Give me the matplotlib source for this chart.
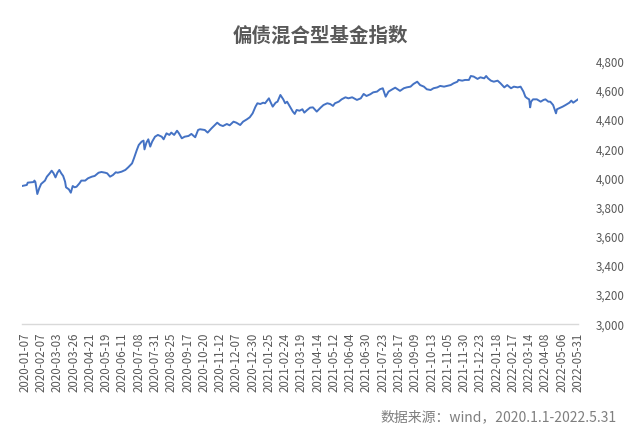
import matplotlib
matplotlib.use('Agg')
import matplotlib.pyplot as plt

plt.rcParams['font.family'] = ['Noto Sans CJK SC', 'DejaVu Sans']

# 交易日序号 (0 = 2020-01-02, 581 = 2022-05-31) 和指数值
day_idx = [0, 5, 6, 12, 13, 14, 16, 18, 20, 24, 26, 29, 31, 33, 35, 37, 39, 41, 43, 45,
           46, 49, 51, 53, 55, 57, 60, 62, 66, 69, 73, 76, 80, 83, 87, 89, 92, 95, 98, 100,
           104, 108, 111, 115, 117, 120, 122, 125, 127, 128, 130, 132, 134, 136, 139, 142, 146, 148, 151, 154,
           156, 159, 162, 164, 167, 170, 174, 177, 181, 184, 186, 191, 194, 198, 204, 207, 210, 214, 217, 221,
           224, 228, 231, 235, 238, 241, 244, 246, 249, 252, 254, 258, 260, 262, 265, 267, 270, 273, 275, 277,
           280, 283, 285, 287, 290, 293, 295, 298, 301, 304, 308, 312, 315, 319, 322, 325, 327, 331, 334, 338,
           341, 345, 347, 350, 354, 357, 360, 364, 367, 371, 374, 377, 380, 383, 387, 390, 395, 399, 402, 406,
           409, 413, 416, 420, 423, 427, 430, 434, 437, 441, 444, 448, 451, 455, 456, 460, 463, 467, 469, 472,
           476, 479, 483, 485, 487, 490, 493, 497, 500, 504, 507, 511, 514, 518, 521, 524, 526, 528, 530, 531,
           532, 534, 538, 542, 545, 547, 550, 552, 555, 558, 559, 561, 565, 568, 572, 574, 576, 579, 581]
index_value = [3948, 3955, 3971, 3975, 3985, 3975, 3893, 3932, 3962, 3985, 4012, 4035, 4053, 4035, 4007, 4039, 4058, 4035, 4017, 3978,
               3939, 3925, 3902, 3948, 3939, 3943, 3966, 3985, 3985, 4001, 4012, 4017, 4039, 4044, 4039, 4035, 4012, 4023, 4042, 4039,
               4046, 4058, 4076, 4103, 4138, 4195, 4229, 4252, 4259, 4199, 4245, 4268, 4218, 4252, 4286, 4298, 4286, 4268, 4309, 4298,
               4314, 4298, 4327, 4309, 4275, 4286, 4291, 4305, 4282, 4332, 4337, 4332, 4314, 4343, 4382, 4366, 4359, 4373, 4364, 4389,
               4382, 4366, 4389, 4405, 4419, 4446, 4492, 4515, 4510, 4519, 4515, 4549, 4519, 4492, 4519, 4526, 4572, 4542, 4515, 4526,
               4492, 4458, 4442, 4469, 4464, 4474, 4451, 4469, 4485, 4487, 4458, 4485, 4503, 4515, 4510, 4497, 4515, 4526, 4542, 4556,
               4549, 4556, 4549, 4538, 4549, 4579, 4565, 4577, 4590, 4595, 4611, 4618, 4560, 4595, 4611, 4622, 4600, 4618, 4624, 4629,
               4647, 4663, 4640, 4629, 4611, 4606, 4618, 4624, 4634, 4629, 4634, 4640, 4652, 4663, 4675, 4670, 4675, 4675, 4702, 4698,
               4682, 4693, 4686, 4702, 4686, 4670, 4663, 4670, 4652, 4624, 4640, 4618, 4629, 4624, 4629, 4595, 4560, 4549, 4542, 4487,
               4526, 4542, 4542, 4526, 4538, 4542, 4526, 4526, 4503, 4446, 4474, 4480, 4492, 4503, 4519, 4533, 4519, 4533, 4542]

tick_labels = ['2020-01-07', '2020-02-07', '2020-03-03', '2020-03-26', '2020-04-21', '2020-05-19',
               '2020-06-11', '2020-07-08', '2020-07-31', '2020-08-25', '2020-09-17', '2020-10-20',
               '2020-11-12', '2020-12-07', '2020-12-30', '2021-01-25', '2021-02-24', '2021-03-19',
               '2021-04-14', '2021-05-12', '2021-06-04', '2021-06-30', '2021-07-23', '2021-08-17',
               '2021-09-09', '2021-10-13', '2021-11-05', '2021-11-30', '2021-12-23', '2022-01-18',
               '2022-02-17', '2022-03-14', '2022-04-08', '2022-05-06', '2022-05-31']
tick_pos = [3 + 17 * i for i in range(len(tick_labels))]
y_ticks = [3000, 3200, 3400, 3600, 3800, 4000, 4200, 4400, 4600, 4800]

fig = plt.figure(figsize=(6.4, 4.4), dpi=100)
ax = fig.add_axes([22 / 640, 1 - 324.3 / 440, 556 / 640, 262.6 / 440])

ax.plot(day_idx, index_value, color='#4472C4', linewidth=1.4)
ax.set_xlim(0, 581)
ax.set_ylim(3000, 4800)

ax.set_xticks(tick_pos)
ax.set_xticklabels(tick_labels, rotation=90, fontsize=8.3, color='#595959')
ax.set_yticks(y_ticks)
ax.set_yticklabels([f'{v:,}' for v in y_ticks], fontsize=8.3, color='#595959')
ax.yaxis.tick_right()
ax.tick_params(axis='both', length=0)
ax.tick_params(axis='y', pad=13)
ax.tick_params(axis='x', pad=6)

for s in ['top', 'left', 'right']:
    ax.spines[s].set_visible(False)
ax.spines['bottom'].set_color('#d9d9d9')
ax.spines['bottom'].set_linewidth(1)

fig.text(0.5, 1 - 36 / 440, '偏债混合型基金指数', ha='center', va='center',
         fontsize=14, fontweight='bold', color='#595959')
fig.text(617 / 640, 1 - 417 / 440, '数据来源：wind，2020.1.1-2022.5.31', ha='right', va='center',
         fontsize=10, color='#7f7f7f')

fig.savefig('out.png', dpi=100)
